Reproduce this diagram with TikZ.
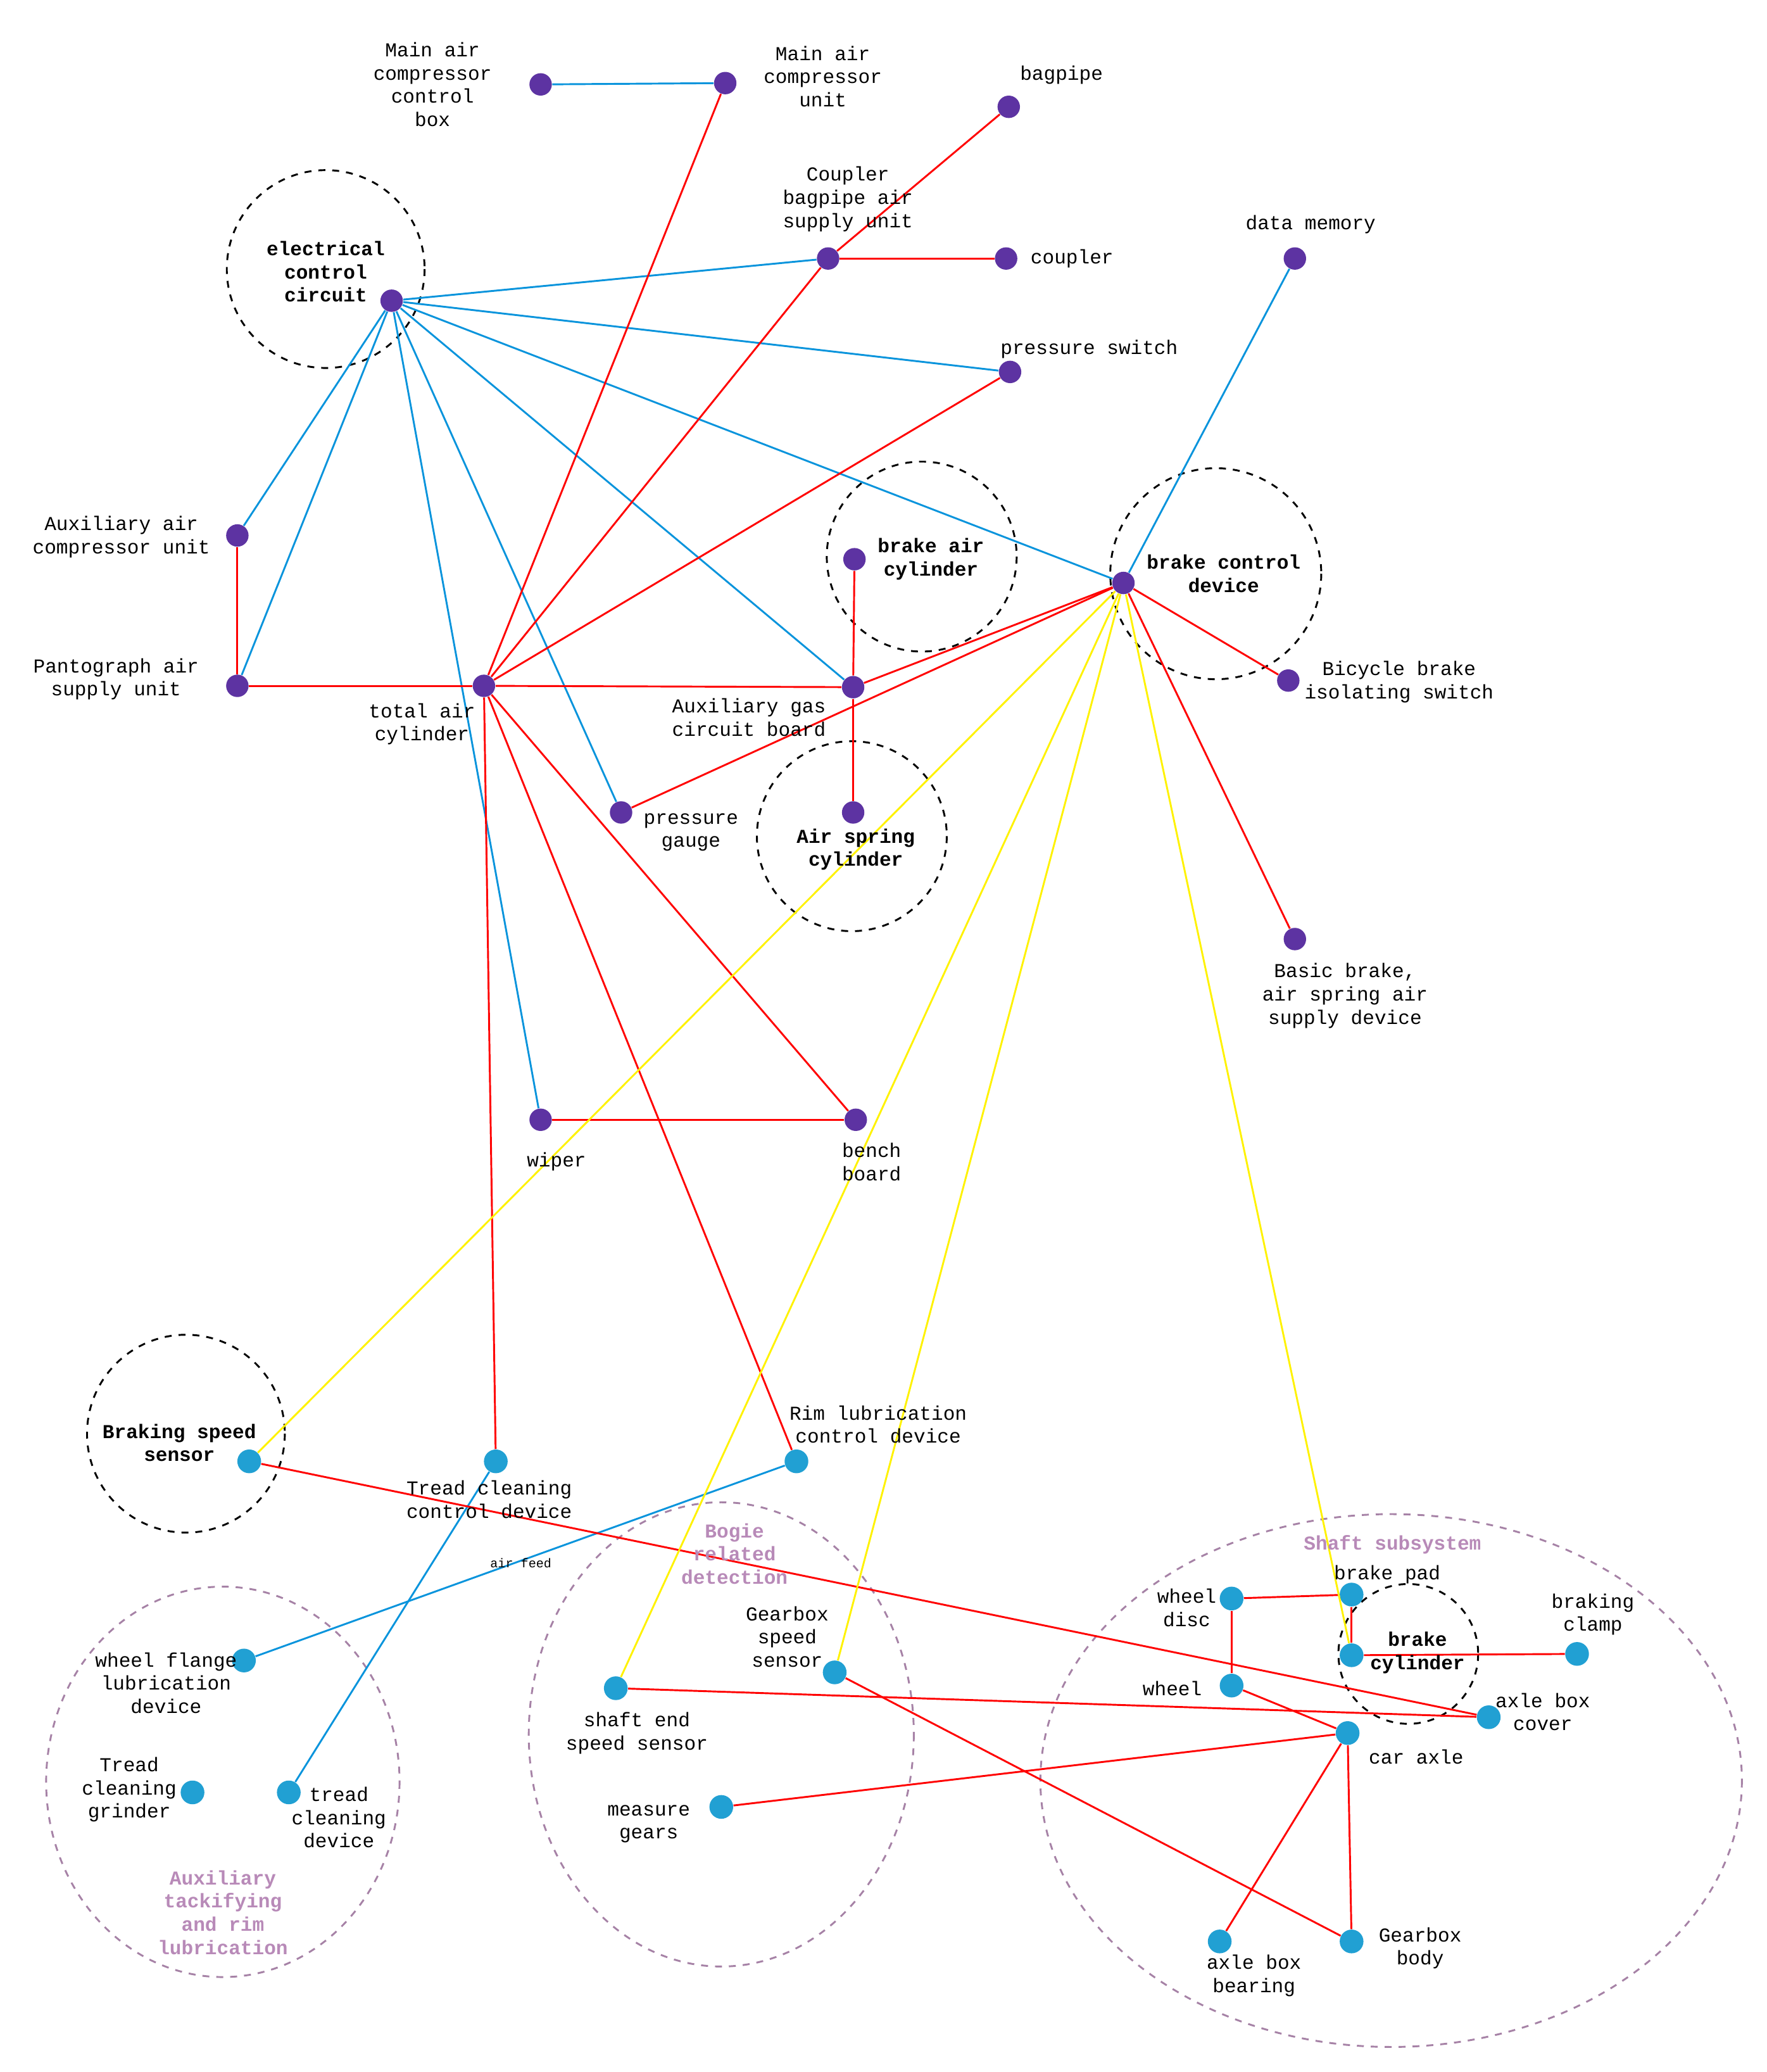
\documentclass[tikz,border=0pt]{standalone}
\usepackage{fontspec}
\setmainfont{Liberation Mono}
\begin{document}
\begin{tikzpicture}[x=0.02cm,y=-0.02cm,
 pn/.style={circle,fill=violet!55!blue!60!gray,minimum size=0.34cm,inner sep=0pt},
 cn/.style={circle,fill=cyan!70!teal,minimum size=0.36cm,inner sep=0pt},
 lb/.style={font=\fontsize{8.5}{10}\selectfont,align=center,inner sep=1pt},
 bl/.style={font=\bfseries\fontsize{8.5}{10}\selectfont,align=center,inner sep=1pt},
 gl/.style={font=\bfseries\fontsize{8.5}{10}\selectfont,align=center,text=violet!45!white!80!gray},
 dc/.style={draw,dashed,thick},
 de/.style={draw=violet!40!gray!70,dashed,thick},
 B/.style={draw=cyan!80!blue,thick},
 R/.style={draw=red,thick},
 Y/.style={draw=yellow,thick}]
\useasboundingbox (0,0) rectangle (1340,1571);
% circles
\draw[dc] (247,204) circle (75);
\draw[dc] (699,422) circle (72);
\draw[dc] (922,435) circle (80);
\draw[dc] (646,634) circle (72);
\draw[dc] (141,1087) circle (75);
\draw[dc] (1068,1254) circle (53);
\draw[de] (169,1351) ellipse (134 and 148);
\draw[de] (547,1315) ellipse (146 and 176);
\draw[de] (1055,1350) ellipse (266 and 202);
% nodes
\node[pn] (mcb) at (410,64) {}; \node[pn] (mcu) at (550,63) {};
\node[pn] (bagpipe) at (765,81) {}; \node[pn] (cbs) at (628,196) {};
\node[pn] (coupler) at (763,196) {}; \node[pn] (dm) at (982,196) {};
\node[pn] (ecc) at (297,228) {}; \node[pn] (ps) at (766,282) {};
\node[pn] (aux) at (180,406) {}; \node[pn] (bcd) at (852,442) {};
\node[pn] (bac) at (648,424) {}; \node[pn] (pant) at (180,520) {};
\node[pn] (tac) at (367,520) {}; \node[pn] (agb) at (647,521) {};
\node[pn] (bbis) at (977,516) {}; \node[pn] (pg) at (471,616) {};
\node[pn] (asc) at (647,616) {}; \node[pn] (bb) at (982,712) {};
\node[pn] (wiper) at (410,849) {}; \node[pn] (bench) at (649,849) {};
\node[cn] (bss) at (189,1108) {}; \node[cn] (tcd) at (376,1108) {};
\node[cn] (rlc) at (604,1108) {}; \node[cn] (wfl) at (185,1259) {};
\node[cn] (tcg) at (146,1359) {}; \node[cn] (tcdev) at (219,1359) {};
\node[cn] (ses) at (467,1280) {}; \node[cn] (gss) at (633,1268) {};
\node[cn] (mg) at (547,1370) {}; \node[cn] (wd) at (934,1212) {};
\node[cn] (bp) at (1025,1209) {}; \node[cn] (w) at (934,1278) {};
\node[cn] (bc) at (1025,1255) {}; \node[cn] (bclamp) at (1196,1254) {};
\node[cn] (abc) at (1129,1302) {}; \node[cn] (ca) at (1022,1314) {};
\node[cn] (abb) at (925,1472) {}; \node[cn] (gb) at (1025,1472) {};
% blue edges
\foreach \t in {cbs,ps,bcd,agb,pg,wiper,aux,pant} \draw[B] (ecc) -- (\t);
\draw[B] (mcb) -- (mcu); \draw[B] (dm) -- (bcd);
\draw[B] (rlc) -- (wfl); \draw[B] (tcd) -- (tcdev);
% red edges
\foreach \t in {agb,mcu,cbs,ps,bench,tcd,rlc} \draw[R] (tac) -- (\t);
\draw[R] (aux) -- (pant); \draw[R] (pant) -- (tac);
\draw[R] (cbs) -- (bagpipe); \draw[R] (cbs) -- (coupler);
\draw[R] (bac) -- (agb); \draw[R] (agb) -- (asc); \draw[R] (agb) -- (bcd);
\draw[R] (pg) -- (bcd); \draw[R] (bcd) -- (bbis); \draw[R] (bcd) -- (bb);
\draw[R] (wiper) -- (bench); \draw[R] (bss) -- (abc); \draw[R] (ses) -- (abc);
\draw[R] (gss) -- (gb); \draw[R] (mg) -- (ca); \draw[R] (wd) -- (bp);
\draw[R] (wd) -- (w); \draw[R] (bp) -- (bc); \draw[R] (bc) -- (bclamp);
\draw[R] (w) -- (ca); \draw[R] (ca) -- (abb); \draw[R] (ca) -- (gb);
% yellow
\foreach \t in {bss,ses,gss,bc} \draw[Y] (bcd) -- (\t);
% labels
\node[lb] at (328,64) {Main air\\compressor\\control\\box};
\node[lb] at (624,58) {Main air\\compressor\\unit};
\node[lb] at (805,57) {bagpipe};
\node[lb] at (643,151) {Coupler\\bagpipe air\\supply unit};
\node[lb] at (813,196) {coupler};
\node[lb] at (994,170) {data memory};
\node[lb] at (826,265) {pressure switch};
\node[bl] at (247,206) {electrical\\control\\circuit};
\node[bl] at (706,424) {brake air\\cylinder};
\node[bl] at (928,435) {brake control\\device};
\node[bl] at (649,644) {Air spring\\cylinder};
\node[bl] at (136,1094) {Braking speed\\sensor};
\node[bl] at (1075,1253) {brake\\cylinder};
\node[lb] at (92,407) {Auxiliary air\\compressor unit};
\node[lb] at (88,515) {Pantograph air\\supply unit};
\node[lb] at (320,549) {total air\\cylinder};
\node[lb] at (568,544) {Auxiliary gas\\circuit board};
\node[lb] at (1061,517) {Bicycle brake\\isolating switch};
\node[lb] at (524,631) {pressure\\gauge};
\node[lb] at (1020,755) {Basic brake,\\air spring air\\supply device};
\node[lb] at (422,881) {wiper};
\node[lb] at (661,881) {bench\\board};
\node[lb] at (666,1080) {Rim lubrication\\control device};
\node[lb] at (371,1137) {Tread cleaning\\control device};
\node[font=\fontsize{5.5}{6}\selectfont,inner sep=1pt] at (395,1185) {air feed};
\node[gl] at (557,1178) {Bogie\\related\\detection};
\node[gl] at (1056,1171) {Shaft subsystem};
\node[gl] at (169,1450) {Auxiliary\\tackifying\\and rim\\lubrication};
\node[lb] at (126,1276) {wheel flange\\lubrication\\device};
\node[lb] at (98,1357) {Tread\\cleaning\\grinder};
\node[lb] at (257,1378) {tread\\cleaning\\device};
\node[lb] at (597,1241) {Gearbox\\speed\\sensor};
\node[lb] at (483,1314) {shaft end\\speed sensor};
\node[lb] at (492,1383) {measure\\gears};
\node[lb] at (900,1219) {wheel\\disc};
\node[lb] at (1052,1194) {brake pad};
\node[lb] at (1208,1224) {braking\\clamp};
\node[lb] at (889,1280) {wheel};
\node[lb] at (1170,1298) {axle box\\cover};
\node[lb] at (1074,1332) {car axle};
\node[lb] at (951,1498) {axle box\\bearing};
\node[lb] at (1077,1477) {Gearbox\\body};
\end{tikzpicture}
\end{document}
